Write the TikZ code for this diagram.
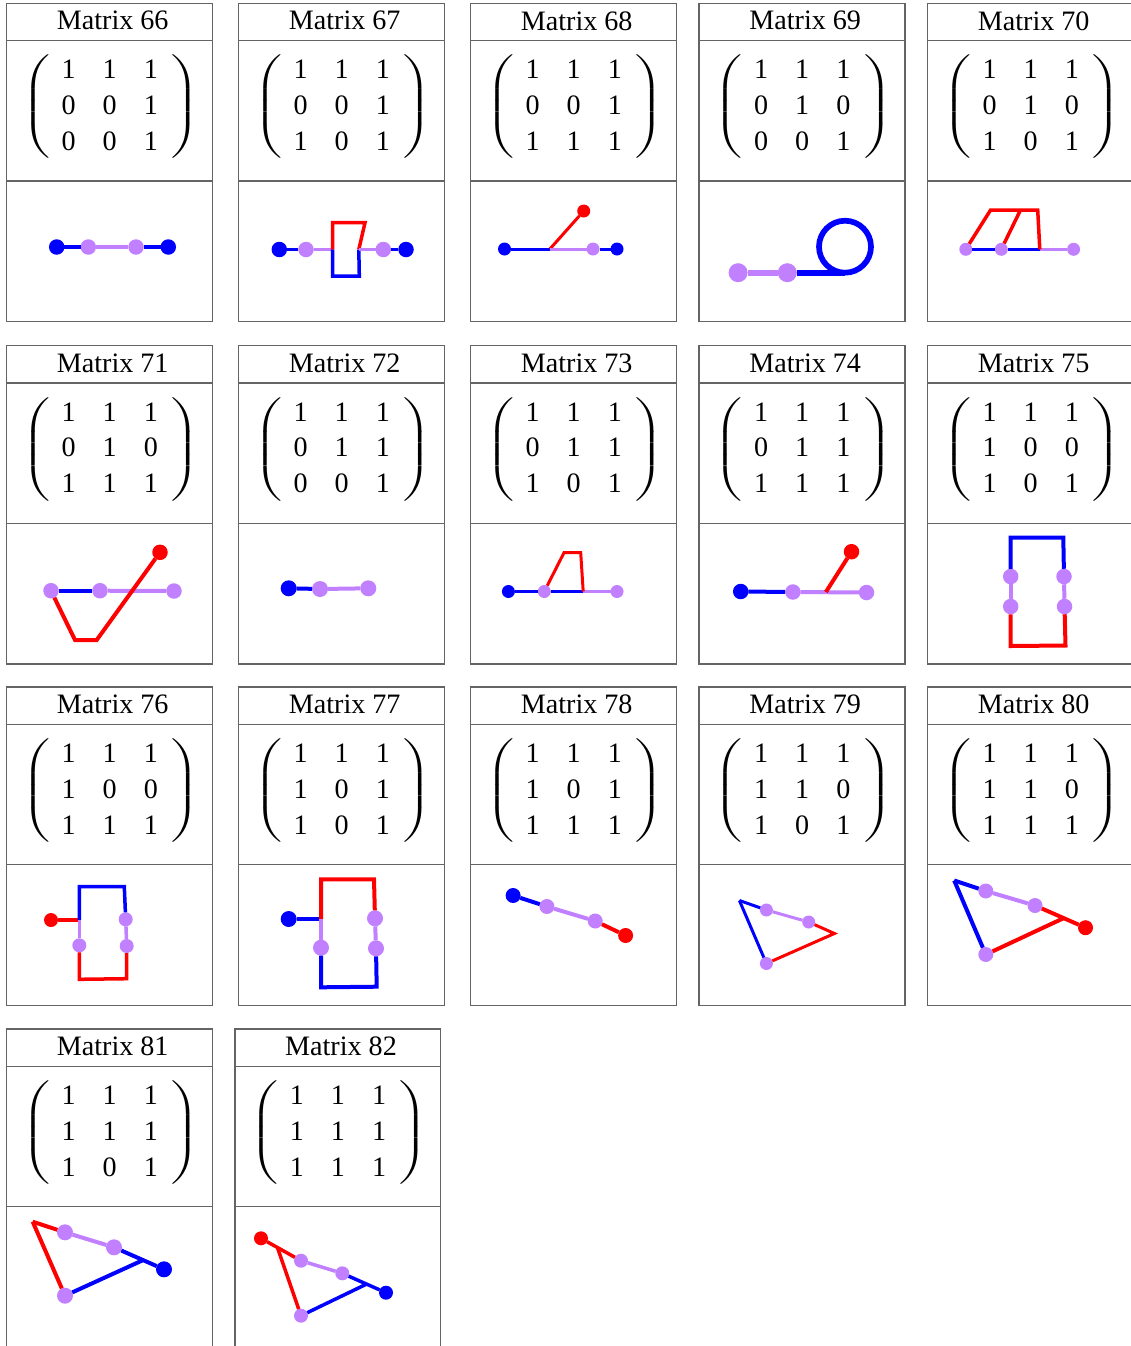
\documentclass[tikz,border=0pt]{standalone}
\usepackage{graphicx}
\usepackage{fontspec}
\setmainfont{Liberation Serif}
\definecolor{vblue}{RGB}{0,0,255}
\definecolor{vred}{RGB}{255,0,0}
\definecolor{vlilac}{RGB}{192,128,255}
\definecolor{cellgray}{RGB}{100,100,100}
\setlength{\tabcolsep}{7.7pt}
\nulldelimiterspace=0pt

% one cell: x, y, number, three rows of the matrix
\newcommand{\matcell}[6]{%
  \begin{scope}[shift={(#1,#2)}]
    \draw[cellline] (0,0) rectangle (205.7,318.4);
    \draw[cellline] (0,37.4) -- (205.7,37.4);
    \draw[cellline] (0,177.7) -- (205.7,177.7);
    \node[titlenode] (t#3) at (106,17.5) {Matrix #3};
    \node[matnode] (m#3) at (103,104)
      {\begin{tabular}{ccc}#4\\#5\\#6\end{tabular}};
    \node[parennode, anchor=west] (lp#3) at (15.3,104)
      {\scalebox{1.8}[1.09]{$\left(\vrule height 33pt depth 25pt width 0pt\right.$}};
    \node[parennode, anchor=west] (rp#3) at (164.5,104)
      {\scalebox{1.8}[1.09]{$\left.\vrule height 33pt depth 25pt width 0pt\right)$}};
  \end{scope}
}

\begin{document}
\begin{tikzpicture}[
  x=0.02cm, y=-0.02cm,
  cellline/.style={draw=cellgray, line width=0.03cm},
  titlenode/.style={inner sep=0pt, font=\fontsize{16}{19}\selectfont},
  matnode/.style={inner sep=0pt, font=\fontsize{16}{20.4}\selectfont},
  parennode/.style={inner sep=0pt, font=\fontsize{16}{20.4}\selectfont},
  dotsz/.style={minimum size=0.3cm},
  vb/.style={circle, fill=vblue, inner sep=0pt, outer sep=0pt, dotsz},
  vr/.style={circle, fill=vred, inner sep=0pt, outer sep=0pt, dotsz},
  vp/.style={circle, fill=vlilac, inner sep=0pt, outer sep=0pt, dotsz},
  eb/.style={draw=vblue},
  er/.style={draw=vred},
  ep/.style={draw=vlilac}
]
  \useasboundingbox (0,0) rectangle (1131,1346);

  % Cells
  \matcell{6.7}{3.3}{66}{1&1&1}{0&0&1}{0&0&1}
  \matcell{238.7}{3.3}{67}{1&1&1}{0&0&1}{1&0&1}
  \matcell{470.7}{3.3}{68}{1&1&1}{0&0&1}{1&1&1}
  \matcell{699.2}{3.3}{69}{1&1&1}{0&1&0}{0&0&1}
  \matcell{927.7}{3.3}{70}{1&1&1}{0&1&0}{1&0&1}
  \matcell{6.7}{345.7}{71}{1&1&1}{0&1&0}{1&1&1}
  \matcell{238.7}{345.7}{72}{1&1&1}{0&1&1}{0&0&1}
  \matcell{470.7}{345.7}{73}{1&1&1}{0&1&1}{1&0&1}
  \matcell{699.2}{345.7}{74}{1&1&1}{0&1&1}{1&1&1}
  \matcell{927.7}{345.7}{75}{1&1&1}{1&0&0}{1&0&1}
  \matcell{6.7}{687}{76}{1&1&1}{1&0&0}{1&1&1}
  \matcell{238.7}{687}{77}{1&1&1}{1&0&1}{1&0&1}
  \matcell{470.7}{687}{78}{1&1&1}{1&0&1}{1&1&1}
  \matcell{699.2}{687}{79}{1&1&1}{1&1&0}{1&0&1}
  \matcell{927.7}{687}{80}{1&1&1}{1&1&0}{1&1&1}
  \matcell{6.7}{1029}{81}{1&1&1}{1&1&1}{1&0&1}
  \matcell{235}{1029}{82}{1&1&1}{1&1&1}{1&1&1}

  % Matrix 66
  \begin{scope}[dotsz/.style={minimum size=0.31cm}, line width=0.08cm]
    \node[vb] (a66) at (56.7,247) {};
    \node[vp] (b66) at (88.3,247) {};
    \node[vp] (c66) at (136,247) {};
    \node[vb] (d66) at (168.3,247) {};
    \draw[eb] (a66) -- (b66);
    \draw[ep] (b66) -- (c66);
    \draw[eb] (c66) -- (d66);
  \end{scope}

  % Matrix 67
  \begin{scope}[dotsz/.style={minimum size=0.31cm}, line width=0.07cm]
    \node[vb] (a67) at (279.3,249.5) {};
    \node[vp] (b67) at (306,249.5) {};
    \node[vp] (c67) at (383.3,249.5) {};
    \node[vb] (d67) at (406,249.5) {};
    \coordinate (j67) at (332.7,249.5);
    \coordinate (k67) at (358.8,249.5);
    \draw[eb] (a67) -- (b67);
    \draw[ep] (b67) -- (j67);
    \draw[er] (j67) -- (332.7,222.7) -- (365,222.7) -- (k67);
    \draw[eb] (j67) -- (332.7,276) -- (359.3,276) -- (k67);
    \draw[ep] (k67) -- (c67);
    \draw[eb] (c67) -- (d67);
  \end{scope}

  % Matrix 68
  \begin{scope}[dotsz/.style={minimum size=0.26cm}, line width=0.06cm]
    \node[vb] (a68) at (504.5,249) {};
    \node[vr] (r68) at (583.7,211) {};
    \node[vp] (b68) at (593,249) {};
    \node[vb] (d68) at (617,249) {};
    \coordinate (j68) at (549.9,249);
    \draw[eb] (a68) -- (j68);
    \draw[er] (j68) -- (r68);
    \draw[ep] (j68) -- (b68);
    \draw[eb] (b68) -- (d68);
  \end{scope}

  % Matrix 69
  \begin{scope}[dotsz/.style={minimum size=0.38cm}, line width=0.114cm]
    \node[vp] (a69) at (738.1,272.7) {};
    \node[vp] (b69) at (787.3,272.7) {};
    \coordinate (j69) at (845,272.7);
    \draw[ep] (a69) -- (b69);
    \draw[eb] (b69) -- (j69);
    \draw[eb] (j69) arc[start angle=-90, end angle=270, radius=0.52cm];
  \end{scope}

  % Matrix 70
  \begin{scope}[dotsz/.style={minimum size=0.26cm}, line width=0.07cm]
    \node[vp] (a70) at (965.8,249.3) {};
    \node[vp] (b70) at (1001.3,249.3) {};
    \node[vp] (c70) at (1073.6,249.3) {};
    \coordinate (j70) at (1039.8,249.3);
    \draw[eb] (a70) -- (b70);
    \draw[eb] (b70) -- (j70);
    \draw[ep] (j70) -- (c70);
    \draw[er] (a70) -- (990.6,210) -- (1037.7,210) -- (j70);
    \draw[er] (b70) -- (1020.5,210);
  \end{scope}

  % Matrix 71
  \begin{scope}[dotsz/.style={minimum size=0.31cm}, line width=0.08cm]
    \node[vp] (a71) at (51,590.7) {};
    \node[vp] (b71) at (100,590.7) {};
    \node[vp] (c71) at (174,591) {};
    \node[vr] (r71) at (160,552.3) {};
    \draw[eb] (a71) -- (b71);
    \draw[ep] (b71) -- (c71);
    \draw[er] (a71) -- (75,640) -- (96.7,640) -- (r71);
  \end{scope}

  % Matrix 72
  \begin{scope}[dotsz/.style={minimum size=0.32cm}, line width=0.08cm]
    \node[vb] (a72) at (288.7,588.3) {};
    \node[vp] (b72) at (320,589) {};
    \node[vp] (c72) at (368.3,588.3) {};
    \draw[eb] (a72) -- (b72);
    \draw[ep] (b72) -- (c72);
  \end{scope}

  % Matrix 73
  \begin{scope}[dotsz/.style={minimum size=0.26cm}, line width=0.06cm]
    \node[vb] (a73) at (508.4,591.5) {};
    \node[vp] (b73) at (544.3,591.5) {};
    \node[vp] (c73) at (617,591.5) {};
    \coordinate (j73) at (583.2,591.5);
    \draw[eb] (a73) -- (b73);
    \draw[eb] (b73) -- (j73);
    \draw[ep] (j73) -- (c73);
    \draw[er] (b73) -- (564,552.7) -- (580.7,552.7) -- (j73);
  \end{scope}

  % Matrix 74
  \begin{scope}[dotsz/.style={minimum size=0.31cm}, line width=0.08cm]
    \node[vb] (a74) at (740.7,591.5) {};
    \node[vp] (b74) at (792.9,592) {};
    \node[vp] (c74) at (866.5,592.5) {};
    \node[vr] (r74) at (851.5,551.7) {};
    \coordinate (j74) at (825.9,592);
    \draw[eb] (a74) -- (b74);
    \draw[ep] (b74) -- (c74);
    \draw[er] (j74) -- (r74);
  \end{scope}

  % Matrix 75
  \begin{scope}[dotsz/.style={minimum size=0.31cm}, line width=0.08cm]
    \node[vp] (a75) at (1010.7,576.5) {};
    \node[vp] (b75) at (1010.7,606.5) {};
    \node[vp] (c75) at (1064,576.5) {};
    \node[vp] (d75) at (1064.5,606.5) {};
    \draw[eb] (a75) -- (1010.7,537.7) -- (1063.3,537.7) -- (c75);
    \draw[ep] (a75) -- (b75);
    \draw[ep] (c75) -- (d75);
    \draw[er] (b75) -- (1010.7,646) -- (1065.5,645.5) -- (d75);
  \end{scope}

  % Matrix 76
  \begin{scope}[dotsz/.style={minimum size=0.28cm}, line width=0.07cm]
    \node[vr] (r76) at (51,920) {};
    \node[vp] (a76) at (79.3,945.3) {};
    \node[vp] (b76) at (125.7,919.3) {};
    \node[vp] (c76) at (126.7,946) {};
    \coordinate (j76) at (79.3,920);
    \draw[er] (r76) -- (j76);
    \draw[eb] (j76) -- (79.3,886.7) -- (124.3,886.7) -- (b76);
    \draw[ep] (j76) -- (a76);
    \draw[ep] (b76) -- (c76);
    \draw[er] (a76) -- (79.3,979.3) -- (126.7,978.7) -- (c76);
  \end{scope}

  % Matrix 77
  \begin{scope}[dotsz/.style={minimum size=0.32cm}, line width=0.08cm]
    \node[vb] (s77) at (288.7,919) {};
    \node[vp] (a77) at (321,947.7) {};
    \node[vp] (b77) at (375,918.3) {};
    \node[vp] (c77) at (376,948.3) {};
    \coordinate (j77) at (321,919);
    \draw[eb] (s77) -- (j77);
    \draw[er] (j77) -- (321,879.3) -- (374,879.3) -- (b77);
    \draw[ep] (j77) -- (a77);
    \draw[ep] (b77) -- (c77);
    \draw[eb] (a77) -- (321,987.3) -- (376.7,986.7) -- (c77);
  \end{scope}

  % Matrix 78
  \begin{scope}[dotsz/.style={minimum size=0.30cm}, line width=0.08cm]
    \node[vb] (a78) at (513.1,895.5) {};
    \node[vp] (b78) at (546.9,906.5) {};
    \node[vp] (c78) at (595.2,921) {};
    \node[vr] (d78) at (625.6,935.5) {};
    \draw[eb] (a78) -- (b78);
    \draw[ep] (b78) -- (c78);
    \draw[er] (c78) -- (d78);
  \end{scope}

  % Matrix 79
  \begin{scope}[dotsz/.style={minimum size=0.26cm}, line width=0.06cm]
    \node[vp] (a79) at (766.4,910) {};
    \node[vp] (b79) at (808.7,922) {};
    \node[vp] (c79) at (766.4,963.5) {};
    \coordinate (k79) at (739.4,900.5);
    \coordinate (l79) at (834.4,933.5);
    \draw[eb] (k79) -- (a79);
    \draw[ep] (a79) -- (b79);
    \draw[er] (b79) -- (l79) -- (c79);
    \draw[eb] (k79) -- (c79);
  \end{scope}

  % Matrix 80
  \begin{scope}[dotsz/.style={minimum size=0.30cm}, line width=0.08cm]
    \node[vp] (a80) at (985.8,891) {};
    \node[vp] (b80) at (1035,905.5) {};
    \node[vr] (r80) at (1085.5,927.7) {};
    \node[vp] (c80) at (985.8,954.5) {};
    \coordinate (k80) at (954.2,880.5);
    \coordinate (l80) at (1063.3,918.3);
    \draw[eb] (k80) -- (a80);
    \draw[ep] (a80) -- (b80);
    \draw[er] (b80) -- (r80);
    \draw[er] (l80) -- (c80);
    \draw[eb] (k80) -- (c80);
  \end{scope}

  % Matrix 81
  \begin{scope}[dotsz/.style={minimum size=0.32cm}, line width=0.08cm]
    \node[vp] (a81) at (65,1232.3) {};
    \node[vp] (b81) at (114,1247.3) {};
    \node[vb] (s81) at (164,1269.3) {};
    \node[vp] (c81) at (65,1295.7) {};
    \coordinate (k81) at (32.7,1221.7);
    \coordinate (l81) at (143.3,1260);
    \draw[er] (k81) -- (a81);
    \draw[ep] (a81) -- (b81);
    \draw[eb] (b81) -- (s81);
    \draw[eb] (l81) -- (c81);
    \draw[er] (k81) -- (c81);
  \end{scope}

  % Matrix 82
  \begin{scope}[dotsz/.style={minimum size=0.28cm}, line width=0.07cm]
    \node[vr] (r82) at (261,1238.3) {};
    \node[vp] (a82) at (301,1260.7) {};
    \node[vp] (b82) at (342.3,1273.3) {};
    \node[vb] (s82) at (386,1292.7) {};
    \node[vp] (c82) at (301,1315.7) {};
    \coordinate (k82) at (277.7,1248.3);
    \coordinate (l82) at (366.7,1284);
    \draw[er] (r82) -- (a82);
    \draw[ep] (a82) -- (b82);
    \draw[eb] (b82) -- (s82);
    \draw[er] (k82) -- (c82);
    \draw[eb] (l82) -- (c82);
  \end{scope}
\end{tikzpicture}
\end{document}
